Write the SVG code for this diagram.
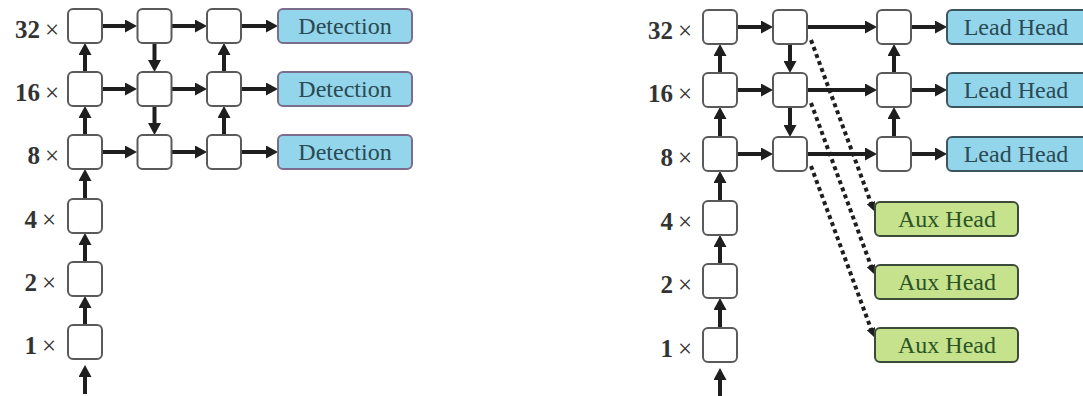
<svg xmlns="http://www.w3.org/2000/svg" width="1083" height="396" viewBox="0 0 1083 396">
<defs>
<marker id="ah" markerUnits="userSpaceOnUse" markerWidth="13" markerHeight="13" refX="2" refY="6.5" orient="auto"><path d="M0,0 L12,6.5 L0,13 z" fill="#1e1e1e"/></marker>
<marker id="ahs" markerUnits="userSpaceOnUse" markerWidth="10" markerHeight="9" refX="2" refY="4.5" orient="auto"><path d="M0,0 L9,4.5 L0,9 z" fill="#1e1e1e"/></marker>
<style>
.box{fill:#fff;stroke:#5a5a5a;stroke-width:2}
.det{fill:#93d5ea;stroke:#7b6d8d;stroke-width:2}
.lead{fill:#93d5ea;stroke:#3d5560;stroke-width:2}
.aux{fill:#c6e28c;stroke:#3c4a38;stroke-width:2}
.lbl{font-family:"Liberation Serif",serif;font-size:25px;font-weight:bold;fill:#333;text-anchor:end}
.x{font-weight:normal}
.ht{font-family:"Liberation Serif",serif;font-size:24px;text-anchor:middle}
.a{stroke:#1e1e1e;stroke-width:4;fill:none;marker-end:url(#ah)}
.d{stroke:#1e1e1e;stroke-width:4;stroke-dasharray:4 3.5;fill:none;marker-end:url(#ahs)}
</style>
</defs>
<g id="labels-left">
<text class="lbl" x="59" y="38">32<tspan class="x" dx="5">×</tspan></text>
<text class="lbl" x="59" y="101">16<tspan class="x" dx="5">×</tspan></text>
<text class="lbl" x="59" y="164">8<tspan class="x" dx="5">×</tspan></text>
<text class="lbl" x="56" y="228">4<tspan class="x" dx="5">×</tspan></text>
<text class="lbl" x="56" y="291">2<tspan class="x" dx="5">×</tspan></text>
<text class="lbl" x="56" y="354">1<tspan class="x" dx="5">×</tspan></text>
</g>
<g id="labels-right">
<text class="lbl" x="692" y="39">32<tspan class="x" dx="5">×</tspan></text>
<text class="lbl" x="692" y="102">16<tspan class="x" dx="5">×</tspan></text>
<text class="lbl" x="692" y="166">8<tspan class="x" dx="5">×</tspan></text>
<text class="lbl" x="692" y="230">4<tspan class="x" dx="5">×</tspan></text>
<text class="lbl" x="692" y="293">2<tspan class="x" dx="5">×</tspan></text>
<text class="lbl" x="692" y="357">1<tspan class="x" dx="5">×</tspan></text>
</g>
<g id="connectors">
<line class="a" x1="102" y1="26" x2="127" y2="26"/>
<line class="a" x1="172" y1="26" x2="197" y2="26"/>
<line class="a" x1="241" y1="26" x2="268" y2="26"/>
<line class="a" x1="102" y1="89" x2="127" y2="89"/>
<line class="a" x1="172" y1="89" x2="197" y2="89"/>
<line class="a" x1="241" y1="89" x2="268" y2="89"/>
<line class="a" x1="102" y1="152" x2="127" y2="152"/>
<line class="a" x1="172" y1="152" x2="197" y2="152"/>
<line class="a" x1="241" y1="152" x2="268" y2="152"/>
<line class="a" x1="85" y1="72" x2="85" y2="53"/>
<line class="a" x1="85" y1="135" x2="85" y2="116"/>
<line class="a" x1="85" y1="199" x2="85" y2="179"/>
<line class="a" x1="85" y1="262" x2="85" y2="243"/>
<line class="a" x1="85" y1="325" x2="85" y2="306"/>
<line class="a" x1="85" y1="394" x2="85" y2="375"/>
<line class="a" x1="154.5" y1="43" x2="154.5" y2="62"/>
<line class="a" x1="154.5" y1="106" x2="154.5" y2="125"/>
<line class="a" x1="224" y1="135" x2="224" y2="116"/>
<line class="a" x1="224" y1="72" x2="224" y2="53"/>
<line class="a" x1="737" y1="27" x2="763" y2="27"/>
<line class="a" x1="807" y1="27" x2="867" y2="27"/>
<line class="a" x1="911" y1="27" x2="937" y2="27"/>
<line class="a" x1="737" y1="90" x2="763" y2="90"/>
<line class="a" x1="807" y1="90" x2="867" y2="90"/>
<line class="a" x1="911" y1="90" x2="937" y2="90"/>
<line class="a" x1="737" y1="154" x2="763" y2="154"/>
<line class="a" x1="807" y1="154" x2="867" y2="154"/>
<line class="a" x1="911" y1="154" x2="937" y2="154"/>
<line class="a" x1="720" y1="73" x2="720" y2="54"/>
<line class="a" x1="720" y1="137" x2="720" y2="117"/>
<line class="a" x1="720" y1="201" x2="720" y2="181"/>
<line class="a" x1="720" y1="264" x2="720" y2="245"/>
<line class="a" x1="720" y1="328" x2="720" y2="308"/>
<line class="a" x1="720" y1="396" x2="720" y2="378"/>
<line class="a" x1="790" y1="44" x2="790" y2="63"/>
<line class="a" x1="790" y1="107" x2="790" y2="127"/>
<line class="a" x1="894" y1="137" x2="894" y2="117"/>
<line class="a" x1="894" y1="73" x2="894" y2="54"/>
<line class="d" x1="811" y1="40" x2="871.6" y2="204.5"/>
<line class="d" x1="811" y1="103" x2="871.6" y2="267.5"/>
<line class="d" x1="811" y1="166" x2="871.6" y2="330.5"/>
</g>
<g id="left-c1-r32"><rect class="box" x="68" y="9" width="34" height="34" rx="5"/></g>
<g id="left-c1-r16"><rect class="box" x="68" y="72" width="34" height="34" rx="5"/></g>
<g id="left-c1-r8"><rect class="box" x="68" y="135" width="34" height="34" rx="5"/></g>
<g id="left-c1-r4"><rect class="box" x="68" y="199" width="34" height="34" rx="5"/></g>
<g id="left-c1-r2"><rect class="box" x="68" y="262" width="34" height="34" rx="5"/></g>
<g id="left-c1-r1"><rect class="box" x="68" y="325" width="34" height="34" rx="5"/></g>
<g id="left-c2-r32"><rect class="box" x="137.5" y="9" width="34" height="34" rx="5"/></g>
<g id="left-c2-r16"><rect class="box" x="137.5" y="72" width="34" height="34" rx="5"/></g>
<g id="left-c2-r8"><rect class="box" x="137.5" y="135" width="34" height="34" rx="5"/></g>
<g id="left-c3-r32"><rect class="box" x="207" y="9" width="34" height="34" rx="5"/></g>
<g id="left-c3-r16"><rect class="box" x="207" y="72" width="34" height="34" rx="5"/></g>
<g id="left-c3-r8"><rect class="box" x="207" y="135" width="34" height="34" rx="5"/></g>
<g id="det-32"><rect class="det" x="278" y="9" width="134" height="34" rx="5"/><text class="ht" x="345" y="34" fill="#2a4a54">Detection</text></g>
<g id="det-16"><rect class="det" x="278" y="72" width="134" height="34" rx="5"/><text class="ht" x="345" y="97" fill="#2a4a54">Detection</text></g>
<g id="det-8"><rect class="det" x="278" y="135" width="134" height="34" rx="5"/><text class="ht" x="345" y="160" fill="#2a4a54">Detection</text></g>
<g id="right-c1-r32"><rect class="box" x="703" y="10" width="34" height="34" rx="5"/></g>
<g id="right-c1-r16"><rect class="box" x="703" y="73" width="34" height="34" rx="5"/></g>
<g id="right-c1-r8"><rect class="box" x="703" y="137" width="34" height="34" rx="5"/></g>
<g id="right-c1-r4"><rect class="box" x="703" y="201" width="34" height="34" rx="5"/></g>
<g id="right-c1-r2"><rect class="box" x="703" y="264" width="34" height="34" rx="5"/></g>
<g id="right-c1-r1"><rect class="box" x="703" y="328" width="34" height="34" rx="5"/></g>
<g id="right-c2-r32"><rect class="box" x="773" y="10" width="34" height="34" rx="5"/></g>
<g id="right-c2-r16"><rect class="box" x="773" y="73" width="34" height="34" rx="5"/></g>
<g id="right-c2-r8"><rect class="box" x="773" y="137" width="34" height="34" rx="5"/></g>
<g id="right-c3-r32"><rect class="box" x="877" y="10" width="34" height="34" rx="5"/></g>
<g id="right-c3-r16"><rect class="box" x="877" y="73" width="34" height="34" rx="5"/></g>
<g id="right-c3-r8"><rect class="box" x="877" y="137" width="34" height="34" rx="5"/></g>
<g id="lead-32"><rect class="lead" x="947" y="10" width="140" height="34" rx="5"/><text class="ht" x="1016" y="35" fill="#2a4a54">Lead Head</text></g>
<g id="lead-16"><rect class="lead" x="947" y="73" width="140" height="34" rx="5"/><text class="ht" x="1016" y="98" fill="#2a4a54">Lead Head</text></g>
<g id="lead-8"><rect class="lead" x="947" y="137" width="140" height="34" rx="5"/><text class="ht" x="1016" y="162" fill="#2a4a54">Lead Head</text></g>
<g id="aux-1"><rect class="aux" x="875" y="202" width="143" height="34" rx="5"/><text class="ht" x="947" y="227" fill="#2a5426">Aux Head</text></g>
<g id="aux-2"><rect class="aux" x="875" y="265" width="143" height="34" rx="5"/><text class="ht" x="947" y="290" fill="#2a5426">Aux Head</text></g>
<g id="aux-3"><rect class="aux" x="875" y="328" width="143" height="34" rx="5"/><text class="ht" x="947" y="353" fill="#2a5426">Aux Head</text></g>
</svg>
